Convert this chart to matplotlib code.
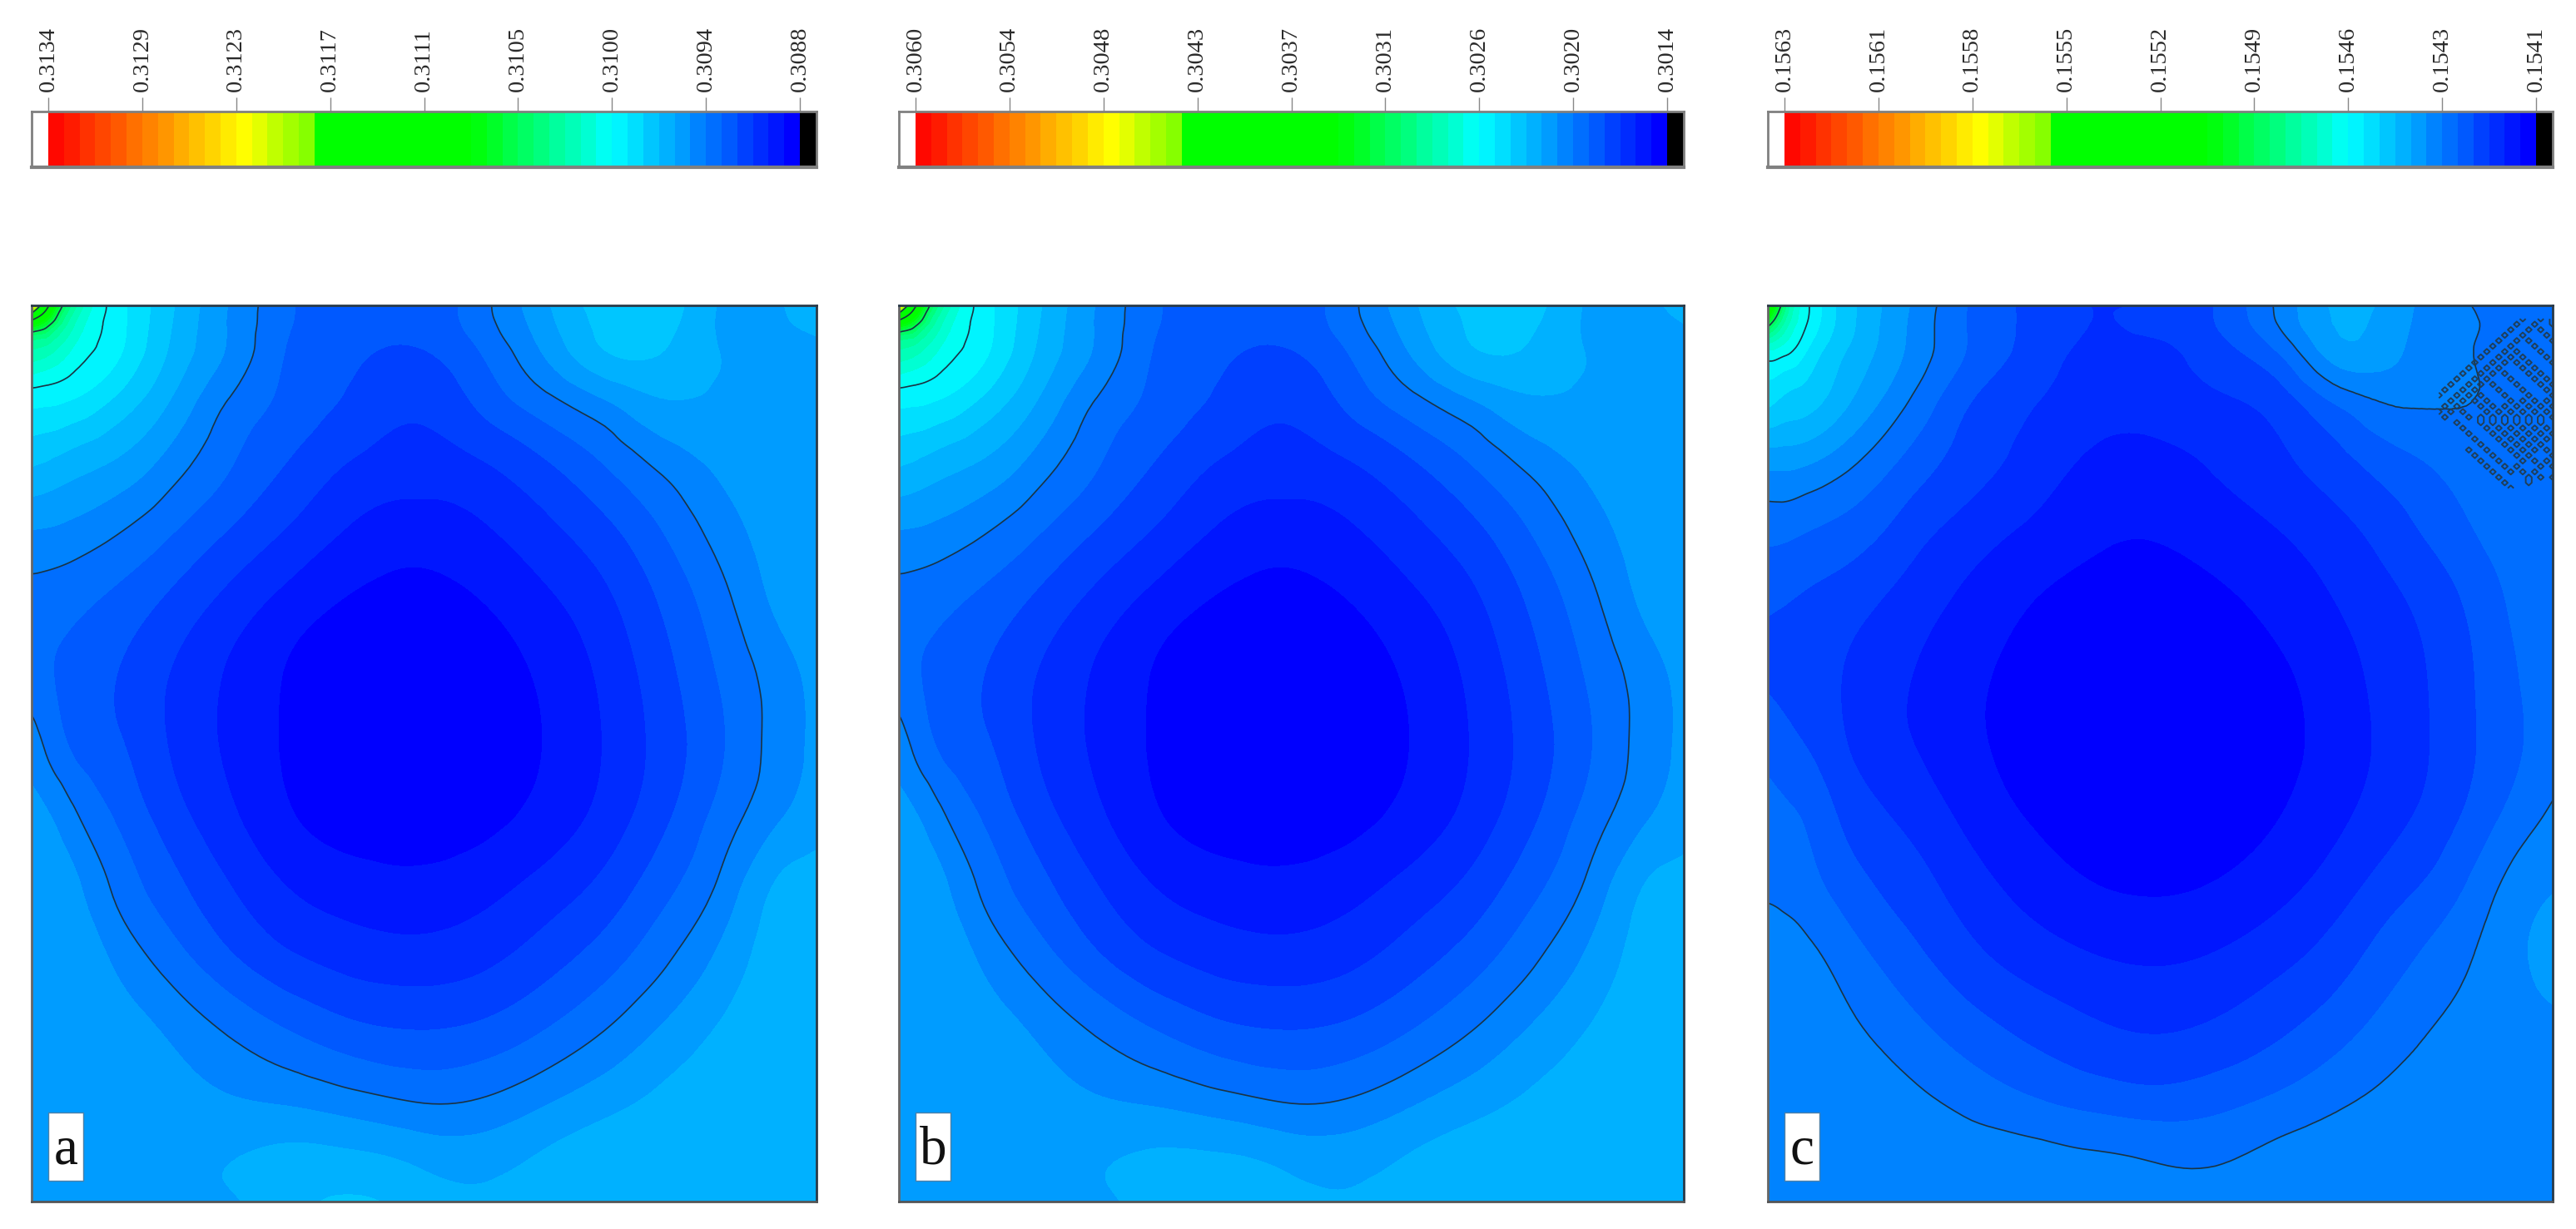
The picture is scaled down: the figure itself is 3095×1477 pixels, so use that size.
import matplotlib
matplotlib.use('Agg')
import matplotlib.pyplot as plt
import matplotlib.tri as mtri
import numpy as np
from matplotlib.colors import LinearSegmentedColormap, ListedColormap
from matplotlib.patches import Rectangle

FIG_W, FIG_H = 3095, 1477

# colour bar tick labels, high value on the left
labels_a = ['0.3134', '0.3129', '0.3123', '0.3117', '0.3111', '0.3105', '0.3100', '0.3094', '0.3088']
labels_b = ['0.3060', '0.3054', '0.3048', '0.3043', '0.3037', '0.3031', '0.3026', '0.3020', '0.3014']
labels_c = ['0.1563', '0.1561', '0.1558', '0.1555', '0.1552', '0.1549', '0.1546', '0.1543', '0.1541']

# sampling positions of the fields, fractions of panel width / height from the top left
x_nodes = [0, .02, .05, .1, .17, .25, .33, .41, .49, .57, .65, .73, .81, .89, .95, 1]
y_nodes = [0, .02, .05, .1, .17, .25, .33, .41, .49, .57, .65, .73, .81, .89, .95, 1]

# fields, in colour bands above the lowest tick (48 bands per bar)
field_a = [
    [38, 25, 16, 11.8, 9.4, 7.0, 5.1, 4.35, 4.25, 5.6, 7.7, 9.5, 9.5, 7.7, 7.9, 8.4],
    [22, 19, 14.5, 11.7, 9.3, 6.95, 5.05, 4.3, 4.2, 5.5, 7.5, 9.3, 9.3, 7.7, 7.85, 8.2],
    [15, 14.5, 13, 11.5, 9.1, 6.9, 4.85, 4.15, 3.95, 5.0, 7.05, 9.0, 8.95, 7.85, 7.7, 7.8],
    [11.6, 11.5, 11.2, 10.2, 8.3, 6.1, 4.7, 3.85, 3.3, 4.3, 5.8, 7.2, 8.1, 7.8, 7.7, 7.7],
    [9.3, 9.1, 8.7, 8.2, 7.0, 5.1, 4.05, 2.95, 2.6, 2.9, 3.85, 5.0, 6.65, 7.55, 7.7, 7.75],
    [7.0, 6.95, 6.75, 6.25, 5.2, 4.05, 2.95, 1.75, 1.35, 1.75, 2.6, 3.65, 4.95, 6.85, 7.5, 7.9],
    [5.6, 5.5, 5.3, 4.75, 3.9, 2.6, 1.45, .75, .5, .85, 1.7, 2.6, 4.2, 5.95, 7.2, 7.8],
    [5.35, 5.1, 4.7, 4.1, 2.98, 1.8, .7, .35, .3, .4, 1.0, 2.15, 3.7, 5.4, 6.5, 7.35],
    [6.5, 5.8, 4.9, 4.15, 3.0, 1.75, .75, .35, .3, .45, .85, 1.95, 3.4, 5.05, 6.4, 7.2],
    [7.3, 7.1, 6.3, 5.1, 3.55, 2.15, .85, .4, .35, .5, 1.15, 2.2, 3.75, 5.7, 6.85, 7.6],
    [7.75, 7.65, 7.3, 6.0, 4.45, 3.05, 1.85, 1.4, 1.2, 1.55, 2.35, 3.2, 4.7, 6.6, 8.15, 8.4],
    [7.85, 7.85, 7.8, 7.15, 5.6, 4.05, 3.0, 2.55, 2.3, 2.6, 3.45, 4.5, 5.75, 7.7, 8.5, 8.7],
    [7.9, 7.9, 7.9, 7.8, 7.1, 6.0, 4.95, 4.05, 3.95, 4.1, 4.85, 5.9, 7.35, 8.4, 8.7, 8.8],
    [7.85, 7.85, 7.85, 7.85, 7.6, 7.15, 7.05, 6.6, 5.95, 6.1, 7.0, 7.85, 8.45, 8.7, 8.8, 8.8],
    [7.8, 7.8, 7.8, 7.8, 7.8, 7.95, 8.3, 8.2, 7.75, 7.55, 8.1, 8.55, 8.7, 8.8, 8.8, 8.8],
    [7.75, 7.75, 7.75, 7.75, 7.75, 7.9, 8.7, 9.1, 8.6, 8.2, 8.5, 8.7, 8.8, 8.8, 8.85, 8.9],
]

field_b = [
    [38, 25, 16, 11.8, 9.4, 7.0, 5.1, 4.35, 4.25, 5.6, 7.7, 9.3, 9.3, 7.7, 7.8, 8.2],
    [22, 19, 14.5, 11.7, 9.3, 6.95, 5.05, 4.3, 4.2, 5.5, 7.5, 9.15, 9.1, 7.7, 7.75, 8.0],
    [15, 14.5, 13, 11.5, 9.1, 6.9, 4.85, 4.15, 3.95, 5.0, 7.05, 8.9, 8.8, 7.85, 7.7, 7.75],
    [11.6, 11.5, 11.2, 10.2, 8.3, 6.1, 4.7, 3.85, 3.3, 4.3, 5.8, 7.2, 8.0, 7.8, 7.7, 7.7],
    [9.3, 9.1, 8.7, 8.2, 7.0, 5.1, 4.05, 2.95, 2.6, 2.9, 3.85, 5.0, 6.65, 7.55, 7.7, 7.75],
    [7.0, 6.95, 6.75, 6.25, 5.2, 4.05, 2.95, 1.75, 1.35, 1.75, 2.6, 3.65, 4.95, 6.85, 7.5, 7.9],
    [5.6, 5.5, 5.3, 4.75, 3.9, 2.6, 1.45, .75, .5, .85, 1.7, 2.6, 4.2, 5.95, 7.2, 7.8],
    [5.35, 5.1, 4.7, 4.1, 2.98, 1.8, .7, .35, .3, .4, 1.0, 2.15, 3.7, 5.4, 6.5, 7.35],
    [6.5, 5.8, 4.9, 4.15, 3.0, 1.75, .75, .35, .3, .45, .85, 1.95, 3.4, 5.05, 6.4, 7.2],
    [7.3, 7.1, 6.3, 5.1, 3.55, 2.15, .85, .4, .35, .5, 1.15, 2.2, 3.75, 5.7, 6.85, 7.6],
    [7.75, 7.65, 7.3, 6.0, 4.45, 3.05, 1.85, 1.4, 1.2, 1.55, 2.35, 3.2, 4.7, 6.6, 8.05, 8.3],
    [7.85, 7.85, 7.8, 7.15, 5.6, 4.05, 3.0, 2.55, 2.3, 2.6, 3.45, 4.5, 5.75, 7.6, 8.4, 8.6],
    [7.9, 7.9, 7.9, 7.8, 7.1, 6.0, 4.95, 4.05, 3.95, 4.1, 4.85, 5.9, 7.3, 8.3, 8.6, 8.7],
    [7.85, 7.85, 7.85, 7.85, 7.6, 7.15, 7.05, 6.6, 5.95, 6.1, 7.0, 7.8, 8.35, 8.6, 8.7, 8.7],
    [7.8, 7.8, 7.8, 7.8, 7.8, 7.9, 8.15, 8.1, 7.7, 7.55, 8.05, 8.45, 8.6, 8.7, 8.7, 8.7],
    [7.75, 7.75, 7.75, 7.75, 7.75, 7.85, 8.4, 8.7, 8.4, 8.1, 8.4, 8.6, 8.7, 8.7, 8.75, 8.8],
]

field_c = [
    [25, 17, 12.2, 9.4, 7.3, 5.1, 3.8, 3.0, 3.1, 4.05, 6.2, 8.2, 7.3, 6.05, 5.95, 5.95],
    [19, 15, 12, 9.4, 7.2, 5.05, 3.8, 3.0, 3.2, 4.0, 6.05, 8.1, 7.2, 6.1, 5.9, 5.9],
    [13, 12.5, 11, 9.0, 7.1, 5.05, 3.7, 2.8, 2.75, 3.6, 5.1, 7.7, 7.0, 6.05, 5.9, 5.85],
    [10.5, 10, 9.6, 8.3, 6.4, 4.3, 3.2, 2.55, 2.4, 2.9, 3.6, 5.6, 6.3, 6.05, 5.9, 5.8],
    [7.5, 7.5, 7.3, 6.6, 4.9, 3.55, 2.85, 1.7, 1.6, 2.2, 2.75, 3.6, 4.85, 5.6, 5.8, 5.85],
    [5.35, 5.3, 5.05, 4.6, 3.65, 2.55, 1.85, 1.25, 1.0, 1.45, 1.95, 2.65, 3.6, 5.05, 5.5, 5.6],
    [4.15, 4.05, 3.85, 3.4, 2.65, 1.75, .95, .5, .4, .7, 1.3, 2.05, 2.85, 4.0, 5.15, 5.5],
    [3.85, 3.75, 3.5, 2.9, 2.1, 1.25, .6, .35, .3, .4, .7, 1.6, 2.55, 3.8, 4.9, 5.5],
    [4.6, 4.35, 3.95, 2.9, 2.05, 1.2, .6, .35, .3, .35, .6, 1.4, 2.45, 3.75, 4.8, 5.5],
    [5.4, 5.2, 4.85, 3.7, 2.95, 1.7, .85, .4, .35, .45, .85, 1.75, 2.7, 4.05, 5.35, 6.2],
    [5.85, 5.75, 5.4, 4.5, 3.6, 2.6, 1.6, .95, .75, .95, 1.55, 2.6, 3.7, 5.1, 6.4, 6.95],
    [6.6, 6.5, 6.3, 5.65, 4.5, 3.3, 2.55, 2.1, 1.85, 2.1, 2.7, 3.55, 4.9, 5.95, 6.8, 7.2],
    [6.8, 6.8, 6.75, 6.4, 5.5, 4.5, 3.75, 3.1, 2.8, 3.05, 3.75, 4.6, 5.7, 6.5, 6.8, 6.9],
    [6.9, 6.9, 6.9, 6.85, 6.5, 5.85, 5.2, 4.75, 4.4, 4.75, 5.3, 6.05, 6.5, 6.8, 6.85, 6.85],
    [6.9, 6.9, 6.9, 6.85, 6.75, 6.55, 6.4, 6.15, 5.9, 5.85, 6.3, 6.55, 6.7, 6.8, 6.8, 6.8],
    [6.9, 6.9, 6.9, 6.9, 6.85, 6.8, 6.7, 6.6, 6.5, 6.45, 6.6, 6.7, 6.8, 6.85, 6.85, 6.85],
]

# the broken up contour patch at the top right of panel c, one character per cell
patch_c = [
    '..............#..#.#',
    '.............#..#..#',
    '............#..#.#..',
    '...........#..#...#.',
    '..........#..#.#...#',
    '.........#..#...#...',
    '........#..#.#...#..',
    '.......#..#.#.#...#.',
    '......#..#.#.#.#...#',
    '.....#..#.#...#.#...',
    '....#..#.#.#...#.#..',
    '...#..#.#...#...#.#.',
    '..#..#.#.#...#...#.#',
    '.#..#.#...#...#...#.',
    '#..#.#.#...#...#...#',
    '..#.#.#.#...#.#.#.#.',
    '.#.#...#.#.#.#.#.#.#',
    '#.#.#...#.#.#.#.#.#.',
    '.#...#.#.#.#.#.#.#.#',
    '...#...#.#.#.#.#.#..',
    '....#...#.#.#.#.#.#.',
    '.....#...#.#.#.#.#.#',
    '......#...#.#.#.#.#.',
    '.......#...#.#.#.#..',
    '.....#..#...#.#.#.#.',
    '......#..#...#.#...#',
    '.......#..#...#.#.#.',
    '........#..#.#...#.#',
    '.........#..#.#.#...',
    '..........#....#.#.#',
    '...........#...#....',
    '............#.......',
]

# band colours, low end of the bar first
cmap_nodes = [(0, '#0000ff'), (.0104, '#0000ff'), (.25, '#00ffff'), (.4375, '#00ff00'), (.646, '#00ff00'),
              (.655, '#80ff00'), (.74, '#ffff00'), (.87, '#ff8000'), (1, '#ff0000')]
smooth = LinearSegmentedColormap.from_list('bar', cmap_nodes, N=256)
band_cmap = ListedColormap([smooth((i + .5) / 48) for i in range(48)])
band_cmap.set_over('white')
band_cmap.set_under('black')

plt.rcParams['font.family'] = ['Liberation Serif', 'DejaVu Serif']
fig = plt.figure(figsize=(FIG_W / 100, FIG_H / 100), dpi=100, facecolor='white')


def add_axes_px(x0, y0, x1, y1):
    # pixel box, y counted from the top of the image
    return fig.add_axes([x0 / FIG_W, 1 - y1 / FIG_H, (x1 - x0) / FIG_W, (y1 - y0) / FIG_H])


def even_out(grid):
    # my readings wobble a little from node to node, settle the middle of the panel
    out = grid.copy()
    out[4:14, 3:14] = (.5 * grid[4:14, 3:14] + .125 * (grid[3:13, 3:14] + grid[5:15, 3:14]
                                                      + grid[4:14, 2:13] + grid[4:14, 4:15]))
    return out


def draw_bar(x0, labels):
    hi, lo = float(labels[0]), float(labels[-1])
    ext = (hi - lo) * 20 / 903
    ax = add_axes_px(x0, 134, x0 + 943, 201)
    edges = np.linspace(hi, lo, 49)
    ax.pcolormesh(edges, [0, 1], np.linspace(47, 0, 48).reshape(1, 48), cmap=band_cmap, vmin=0, vmax=48)
    ax.add_patch(Rectangle((hi, 0), ext, 1, fc='white', ec='none'))
    ax.add_patch(Rectangle((lo, 0), -ext, 1, fc='black', ec='none'))
    ax.set_xlim(hi + ext, lo - ext)
    ax.set_ylim(0, 1)
    ax.set_yticks([])
    ax.xaxis.tick_top()
    ax.set_xticks(np.linspace(hi, lo, len(labels)))
    ax.set_xticklabels(labels, rotation=90, fontsize=20.5, color='#2a2a2a')
    ax.tick_params(axis='x', length=12, width=1, color='#888888', pad=5)
    for s in ax.spines.values():
        s.set_color('#808080')
        s.set_linewidth(2)
    ax.spines['bottom'].set_linewidth(3)


def draw_panel(x0, field, labels, letter):
    hi, lo = float(labels[0]), float(labels[-1])
    step = (hi - lo) / 48
    ax = add_axes_px(x0, 367, x0 + 943, 1444)
    xx, yy = np.meshgrid(x_nodes, y_nodes)
    values = lo + even_out(np.array(field, dtype=float)) * step
    tri = mtri.Triangulation(xx.ravel(), yy.ravel())
    fine_tri, fine_values = mtri.UniformTriRefiner(tri).refine_field(values.ravel(), subdiv=3)
    ax.tricontourf(fine_tri, fine_values, levels=np.linspace(lo, hi, 49), cmap=band_cmap, extend='both')
    ax.tricontour(fine_tri, fine_values, levels=np.linspace(lo, hi, 9), colors='#1a3344', linewidths=1.2)
    ax.set_xlim(0, 1)
    ax.set_ylim(1, 0)
    ax.set_xticks([])
    ax.set_yticks([])
    for s in ax.spines.values():
        s.set_color('#2a3a48')
        s.set_linewidth(2)
    ax.spines['left'].set_color('#666666')
    ax.spines['bottom'].set_color('#555555')
    # letter box sits at a fixed place in the panel
    ax.add_patch(Rectangle((.0212, .9006), .0445, .076, fc='white', ec='#4a7fa8', lw=1, zorder=5))
    ax.text(.0435, .958, letter, fontsize=47, ha='center', va='baseline', color='#111111', zorder=6)
    return ax


draw_bar(38, labels_a)
draw_bar(1080, labels_b)
draw_bar(2124, labels_c)

draw_panel(38, field_a, labels_a, 'a')
draw_panel(1080, field_b, labels_b, 'b')
ax_c = draw_panel(2124, field_c, labels_c, 'c')

cells = np.array([[ch == '#' for ch in row] for row in patch_c], dtype=float)
ax_c.contour(np.linspace(.855, 1, cells.shape[1]), np.linspace(.015, .204, cells.shape[0]), cells,
             levels=[.5], colors='#1f3f5a', linewidths=1.4)

fig.savefig('out.png', dpi=100)
